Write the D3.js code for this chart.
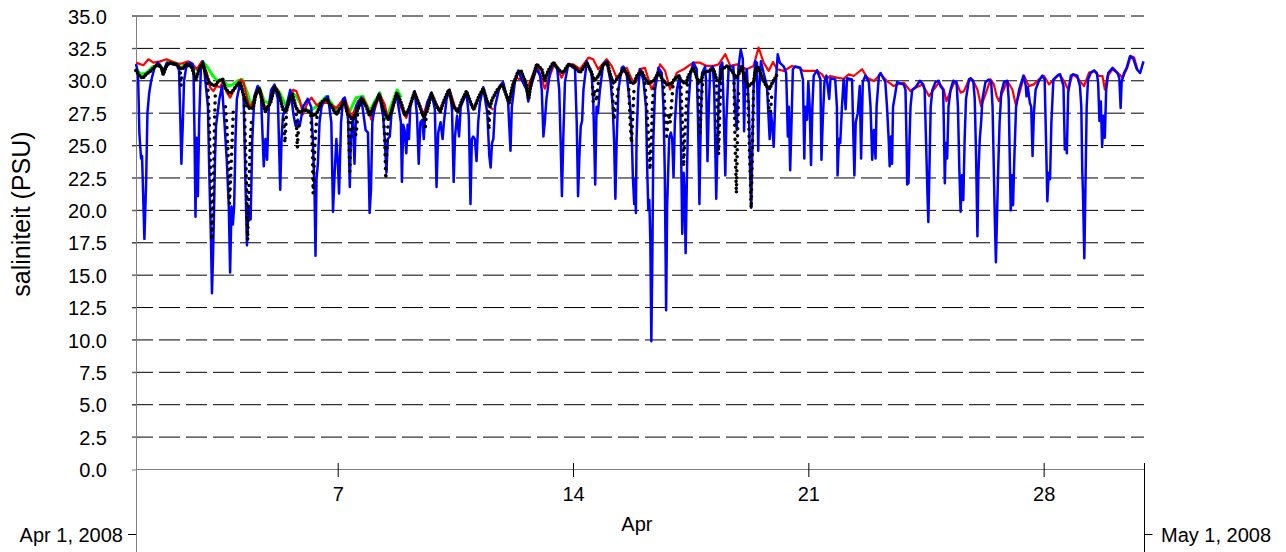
<!DOCTYPE html>
<html>
<head>
<meta charset="utf-8">
<script src="https://cdn.jsdelivr.net/npm/d3@7"></script>
<style>
  body { margin: 0; background: #fff; }
  svg { display: block; }
  text { font-family: "Liberation Sans", Arial, Helvetica, sans-serif; fill: #000; }
</style>
</head>
<body>
<svg id="chart" width="1286" height="552"></svg>
<script>
// Salinity time series, April 2008. Each series: [days after 1 Apr 00:00, salinity PSU].
const yTickValues = [0, 2.5, 5, 7.5, 10, 12.5, 15, 17.5, 20, 22.5, 25, 27.5, 30, 32.5, 35];
const xTickDays = [7, 14, 21, 28];
const yTitle = "saliniteit (PSU)";
const monthLabel = "Apr";
const startLabel = "Apr 1, 2008";
const endLabel = "May 1, 2008";

const redSeries = [[0,31.4],[0.22,31.2],[0.37,31.66],[0.52,31.4],[0.72,31.5],[0.91,31.66],[1.21,31.35],[1.31,31.3],[1.56,31.5],[1.71,31.2],[1.81,30.9],[1.96,31.5],[2.11,30.6],[2.2,29.5],[2.3,29.2],[2.4,29.6],[2.5,29.5],[2.6,30.0],[2.7,29.1],[2.8,28.7],[2.92,29.3],[3.05,29.9],[3.12,30.1],[3.2,29.9],[3.3,28.7],[3.38,27.9],[3.48,28.4],[3.6,29.0],[3.7,29.3],[3.85,27.8],[3.95,27.9],[4.12,29.6],[4.22,29.3],[4.36,28.0],[4.45,27.6],[4.57,28.3],[4.67,29.3],[4.77,29.2],[4.87,28.5],[4.97,27.4],[5.1,28.3],[5.22,28.7],[5.38,28.1],[5.5,28.3],[5.72,28.3],[5.96,27.9],[6.21,28.69],[6.41,27.13],[6.6,28.43],[6.75,28.69],[6.9,27.9],[7.0,27.0],[7.25,28.95],[7.4,28.17],[7.5,27.0],[7.75,29.08],[7.89,27.9],[8.04,27.13],[8.29,29.2],[8.44,28.04],[8.54,27.39],[8.79,29.08],[8.94,28.17],[9.04,27.78],[9.33,29.33],[9.48,28.04],[9.58,27.65],[9.83,29.08],[9.98,28.17],[10.03,27.78],[10.33,29.46],[10.48,28.04],[10.63,27.78],
  null,
  [11.32,30.24],[11.52,29.98],[11.67,29.6],[11.85,30.76],[11.92,31.28],[12.16,29.39],[12.31,30.37],[12.46,31.4],[12.66,30.24],[12.86,31.27],[13.01,31.27],[13.21,30.9],[13.46,31.79],[13.6,31.66],[13.75,30.89],[14.0,31.66],[14.15,31.15],[14.3,30.24],[14.5,30.89],[14.6,31.0],[14.75,30.11],[14.85,29.85],[14.99,30.9],[15.14,31.0],[15.34,29.33],[15.44,29.85],[15.59,31.27],[15.74,30.76],[15.89,29.33],[16.09,30.63],[16.29,30.89],[16.58,31.4],[16.78,31.4],[16.98,31.15],[17.18,31.15],[17.33,31.27],[17.53,32.05],[17.68,31.15],[17.875,31.27],[18.17,30.89],[18.37,31.14],[18.52,32.57],[18.67,31.4],[18.82,30.76],[18.95,31.45],[19.07,30.89],[19.27,30.76],[19.51,31.14],[19.71,31.02],[19.86,30.76],[20.01,30.76],[20.26,30.76],[20.41,30.5],[20.51,30.11],[20.66,30.37],[20.85,30.24],[21.05,30.16],[21.2,30.5],[21.35,30.37],[21.6,30.89],[21.75,30.24],[21.95,29.98],[22.15,30.5],[22.34,29.98],[22.54,29.59],[22.64,29.72],[22.84,29.85],[23.04,29.2],[23.19,29.46],[23.39,29.72],[23.59,28.82],[23.73,29.33],[23.88,29.85],[24.03,29.33],[24.11,28.43],[24.23,29.2],[24.33,29.85],[24.43,29.72],[24.53,29.08],[24.63,29.2],[24.78,30.11],[24.88,30.11],[25.03,29.33],[25.14,28.04],[25.27,28.95],[25.42,30.11],[25.52,29.72],[25.6,28.82],[25.67,28.43],[25.77,29.08],[25.92,29.98],[26.07,29.33],[26.17,28.17],[26.27,28.95],[26.42,30.37],[26.56,29.59],[26.71,29.72],[26.86,30.11],[27.01,30.37],[27.16,29.72],[27.31,30.11],[27.46,30.5],[27.61,29.98],[27.73,29.33],[27.86,30.5],[28.0,30.24],[28.2,29.59],[28.35,30.63],[28.5,30.76],[28.65,30.37],[28.75,30.37],[28.82,29.33],[28.9,30.37],[29.05,30.89],[29.25,30.5],[29.35,30.24],[29.49,31.02],[29.59,31.92],[29.69,31.79],[29.79,30.89]];

const greenSeries = [[0,30.9],[0.15,30.5],[0.3,30.6],[0.5,31.1],[0.7,31.3],[0.81,30.6],[0.94,31.5],[1.19,31.35],[1.34,31.0],[1.49,31.35],[1.69,31.1],[1.84,30.8],[1.99,31.45],[2.14,31.0],[2.28,30.4],[2.43,30.0],[2.58,30.1],[2.73,29.6],[2.88,29.7],[3.03,30.0],[3.16,30.1],[3.33,28.95],[3.43,28.0],[3.57,29.1],[3.67,29.5],[3.82,28.4],[3.97,28.3],[4.12,29.6],[4.27,29.1],[4.47,28.0],[4.62,29.1],[4.77,28.8],[4.97,27.9],[5.16,27.65],[5.36,28.0],[5.51,28.4],[5.66,28.8],[5.81,28.3],[5.96,27.65],[6.16,28.56],[6.36,27.65],[6.55,28.69],[6.75,28.8],[6.95,27.65],[7.25,29.1],[7.45,27.1],[7.55,27.8],[7.77,29.3],[7.89,28.7]];

// continuous part of the point series (dense readings)
const blackBand = [[0,30.8],[0.1,30.4],[0.2,30.2],[0.3,30.5],[0.45,30.8],[0.6,31.2],[0.75,31.1],[0.81,30.5],[0.9,31.1],[1.0,31.4],[1.2,31.27],[1.29,31.0],[1.38,30.9],[1.5,31.3],[1.65,31.1],[1.74,30.4],[1.77,30.0],[1.88,30.9],[1.99,31.4],[2.09,30.4],[2.2,29.8],[2.36,29.6],[2.45,30.0],[2.58,30.1],[2.66,29.4],[2.8,29.0],[2.9,29.3],[2.98,29.6],[3.1,29.9],[3.2,28.9],[3.35,27.9],[3.48,27.9],[3.57,29.0],[3.67,29.4],[3.78,28.2],[3.85,27.6],[3.92,28.0],[4.0,28.3],[4.12,29.5],[4.25,29.0],[4.37,27.8],[4.47,27.6],[4.55,28.5],[4.65,29.0],[4.75,28.0],[4.84,27.6],[4.92,27.6],[5.0,27.8],[5.16,27.6],[5.3,27.3],[5.4,27.6],[5.5,28.3],[5.66,28.6],[5.8,28.1],[5.96,27.4],[6.1,28.0],[6.2,28.4],[6.3,27.4],[6.45,27.0],[6.6,27.8],[6.72,28.6],[6.85,28.0],[6.95,27.3],[7.1,28.2],[7.24,28.9],[7.36,27.8],[7.5,27.0],[7.6,27.6],[7.76,29.1],[7.9,28.2],[8.0,27.3],[8.1,27.7],[8.28,29.1],[8.45,28.0],[8.55,27.2],[8.65,27.6],[8.79,29.0],[8.95,28.0],[9.05,27.6],[9.15,28.4],[9.3,29.3],[9.45,28.0],[9.57,27.6],[9.7,28.5],[9.83,29.2],[9.97,28.2],[10.05,27.8],[10.2,28.8],[10.33,29.4],[10.45,28.4],[10.53,28.0],[10.6,28.6],[10.75,29.3],[10.9,29.7],[11.0,29.0],[11.1,28.3],[11.2,29.6],[11.35,30.6],[11.45,30.8],[11.6,29.8],[11.68,28.6],[11.75,29.8],[11.92,31.27],[12.07,30.89],[12.16,29.98],[12.26,30.76],[12.41,31.4],[12.61,30.76],[12.71,30.63],[12.86,31.27],[13.01,31.14],[13.21,30.63],[13.41,31.4],[13.55,30.63],[13.62,30.0],[13.76,30.37],[13.9,31.27],[14.02,31.4],[14.12,30.37],[14.2,29.8],[14.38,30.37],[14.5,30.89],[14.6,30.63],[14.7,29.9],[14.82,29.8],[14.9,30.37],[15.04,30.76],[15.14,30.2],[15.25,29.8],[15.4,30.0],[15.54,30.63],[15.69,30.0],[15.8,29.7],[15.94,29.8],[16.01,30.11],[16.14,30.37],[16.25,29.9],[16.37,29.8],[16.43,30.37],[16.58,31.02],[16.7,30.11],[16.8,29.9],[16.88,30.63],[17.03,30.76],[17.18,30.89],[17.28,30.0],[17.37,30.0],[17.43,30.89],[17.58,31.14],[17.73,30.76],[17.85,30.2],[17.95,30.63],[18.02,31.14],[18.12,30.11],[18.22,29.6],[18.37,29.9],[18.42,30.63],[18.49,31.14],[18.57,30.63],[18.65,30.11],[18.75,29.59],[18.85,29.4],[18.92,29.8],[18.99,30.11],[19.07,30.5]];

// sparse readings during the low-salinity events of the same series
const blackTrails = [
  [[1.32,30.6],[1.34,29.6],[1.36,30.5]],
  [[2.12,29.8],[2.14,29.3],[2.18,26.7],[2.22,22.9],[2.26,17.7],[2.3,21.0],[2.33,26.0],[2.36,29.2]],
  [[2.66,28.0],[2.7,26.5],[2.74,24.2],[2.78,20.5],[2.82,22.9],[2.86,25.4],[2.9,28.0]],
  [[3.22,28.6],[3.25,25.4],[3.29,21.6],[3.32,17.7],[3.36,21.6],[3.4,25.4],[3.44,27.0]],
  [[4.39,27.0],[4.41,26.0],[4.43,25.2],[4.47,27.2]],
  [[4.77,27.4],[4.78,26.2],[4.8,24.8],[4.84,26.8]],
  [[5.2,27.3],[5.22,26.5],[5.25,24.5],[5.27,21.3],[5.3,23.5],[5.34,26.0],[5.4,27.6]],
  [[6.32,26.8],[6.36,23.0],[6.4,26.8],[6.48,26.0],[6.55,25.8],[6.6,27.8]],
  [[7.37,27.0],[7.4,25.5],[7.43,22.4],[7.46,24.6],[7.5,26.8]],
  [[8.58,27.0],[8.6,26.2],[8.63,27.2]],
  [[10.48,27.6],[10.5,26.2],[10.53,28.0]],
  [[13.58,29.5],[13.6,28.4],[13.64,29.3],[13.7,28.4],[13.76,30.0]],
  [[14.16,29.5],[14.18,28.7],[14.22,27.0],[14.26,28.0],[14.32,28.9],[14.36,29.8]],
  [[14.66,29.33],[14.7,26.75],[14.74,25.2],[14.78,27.5],[14.82,29.6]],
  [[15.14,29.8],[15.19,28.04],[15.24,25.97],[15.29,23.13],[15.33,25.45],[15.37,28.56],[15.42,29.8]],
  [[15.7,29.5],[15.74,27.52],[15.79,25.71],[15.84,27.52],[15.89,26.75],[15.94,28.56],[15.98,29.8]],
  [[16.21,29.5],[16.25,27.0],[16.29,23.38],[16.32,25.45],[16.37,28.04],[16.41,29.8]],
  [[16.72,29.8],[16.74,28.04],[16.78,25.97],[16.82,28.56],[16.86,30.0]],
  [[17.27,29.6],[17.3,26.75],[17.33,24.3],[17.37,28.04],[17.4,30.0]],
  [[17.79,29.8],[17.82,25.45],[17.86,21.3],[17.89,25.45],[17.93,29.5]],
  [[18.19,29.5],[18.23,26.49],[18.27,22.87],[18.3,20.15],[18.34,25.45],[18.37,29.33]],
  [[18.8,29.0],[18.82,28.04],[18.87,27.52],[18.92,29.08]]
];

const blueSeries = [[0,31.3],[0.06,30.6],[0.1,26.0],[0.15,24.0],[0.18,24.2],[0.25,17.8],[0.3,22.0],[0.34,27.5],[0.39,29.0],[0.45,30.0],[0.55,31.0],[0.65,31.4],[0.75,31.0],[0.8,30.6],[0.92,31.4],[1.07,31.3],[1.22,31.2],[1.28,30.8],[1.31,28.0],[1.35,23.6],[1.39,26.5],[1.43,30.0],[1.49,31.0],[1.61,31.4],[1.68,31.3],[1.71,30.9],[1.74,26.0],[1.77,19.5],[1.80,25.6],[1.84,21.1],[1.88,27.0],[1.93,30.9],[1.99,31.5],[2.04,30.6],[2.14,28.0],[2.18,22.9],[2.23,17.7],[2.26,13.6],[2.29,16.4],[2.32,19.8],[2.35,23.9],[2.38,26.5],[2.48,28.6],[2.56,29.6],[2.63,26.8],[2.70,23.9],[2.76,20.3],[2.80,15.2],[2.84,20.3],[2.88,18.9],[2.92,20.3],[2.96,25.5],[3.0,28.6],[3.08,29.6],[3.16,29.3],[3.2,28.8],[3.25,22.9],[3.30,17.3],[3.35,20.3],[3.41,19.3],[3.46,25.5],[3.52,28.8],[3.62,29.6],[3.72,28.8],[3.80,23.4],[3.85,25.5],[3.90,23.9],[3.95,28.0],[4.02,29.3],[4.12,29.7],[4.22,28.6],[4.29,21.6],[4.33,25.5],[4.37,27.3],[4.47,28.0],[4.59,29.3],[4.69,27.3],[4.75,26.5],[4.81,27.0],[4.87,26.5],[4.97,28.0],[5.11,28.6],[5.21,28.0],[5.26,25.5],[5.31,21.6],[5.34,16.5],[5.37,22.4],[5.41,23.6],[5.46,26.8],[5.52,28.0],[5.61,28.6],[5.71,28.8],[5.81,26.8],[5.86,19.9],[5.91,22.9],[5.96,25.5],[6.01,23.4],[6.04,21.3],[6.1,26.8],[6.16,28.6],[6.21,28.7],[6.31,27.0],[6.36,21.8],[6.39,25.5],[6.45,27.0],[6.50,23.6],[6.55,28.0],[6.70,28.7],[6.83,26.2],[6.90,26.0],[6.95,19.8],[6.99,21.6],[7.03,26.8],[7.10,28.0],[7.23,29.0],[7.35,27.3],[7.40,25.5],[7.45,22.9],[7.49,25.5],[7.55,25.7],[7.60,27.5],[7.75,29.0],[7.88,26.8],[7.91,22.2],[7.95,26.6],[7.99,26.2],[8.04,24.4],[8.08,26.6],[8.12,25.5],[8.16,28.0],[8.29,29.2],[8.36,27.3],[8.41,23.6],[8.46,26.8],[8.52,27.0],[8.56,25.5],[8.60,27.3],[8.66,28.3],[8.79,29.1],[8.89,27.8],[8.94,21.8],[8.99,26.0],[9.06,26.8],[9.12,25.5],[9.16,26.8],[9.24,28.6],[9.33,29.3],[9.40,27.8],[9.45,22.2],[9.49,25.7],[9.55,27.3],[9.61,25.7],[9.66,28.0],[9.83,29.1],[9.90,27.3],[9.95,20.5],[9.99,25.5],[10.03,25.7],[10.08,25.5],[10.13,23.8],[10.18,26.8],[10.23,28.3],[10.33,29.5],[10.45,27.5],[10.51,24.2],[10.55,23.3],[10.59,25.2],[10.63,25.5],[10.68,28.0],[10.82,29.6],[10.92,29.9],[11.07,28.3],[11.14,24.6],[11.18,28.0],[11.27,29.9],[11.37,30.8],[11.47,30.1],[11.62,29.3],[11.67,28.4],[11.72,29.3],[11.87,30.6],[11.92,30.9],[12.02,30.4],[12.07,29.3],[12.12,25.7],[12.16,26.8],[12.21,28.6],[12.31,30.6],[12.41,31.4],[12.53,30.9],[12.59,29.3],[12.63,25.5],[12.67,21.1],[12.71,25.5],[12.76,29.9],[12.86,31.3],[13.06,30.9],[13.11,26.8],[13.15,21.1],[13.19,24.2],[13.23,26.5],[13.27,26.9],[13.31,29.3],[13.41,31.5],[13.55,30.6],[13.60,28.6],[13.63,25.5],[13.66,22.0],[13.70,28.0],[13.74,27.5],[13.80,29.3],[13.90,31.3],[14.0,31.5],[14.12,29.9],[14.18,28.0],[14.22,25.5],[14.26,20.9],[14.30,25.5],[14.35,29.3],[14.45,31.0],[14.50,31.1],[14.60,30.4],[14.70,28.0],[14.75,25.5],[14.78,22.6],[14.82,20.5],[14.84,22.4],[14.87,19.8],[14.89,25.5],[14.94,29.3],[14.99,30.9],[15.09,30.1],[15.17,28.0],[15.21,22.9],[15.24,20.0],[15.27,20.8],[15.30,17.7],[15.33,9.9],[15.36,16.4],[15.39,25.5],[15.44,29.3],[15.54,31.0],[15.64,30.6],[15.69,28.0],[15.73,22.9],[15.77,12.3],[15.80,20.3],[15.83,22.9],[15.86,25.5],[15.91,26.0],[15.95,25.5],[15.99,22.6],[16.03,26.8],[16.09,29.3],[16.17,30.4],[16.21,25.5],[16.25,18.2],[16.29,22.9],[16.32,21.3],[16.35,16.7],[16.39,22.9],[16.43,28.0],[16.50,30.6],[16.58,31.4],[16.68,30.9],[16.72,26.8],[16.76,20.5],[16.80,26.8],[16.84,30.6],[16.93,31.1],[16.96,29.9],[17.0,23.8],[17.04,28.0],[17.08,30.9],[17.16,31.1],[17.20,29.3],[17.26,20.9],[17.30,25.5],[17.34,29.3],[17.38,31.1],[17.44,31.4],[17.48,28.0],[17.53,22.7],[17.56,26.8],[17.63,31.1],[17.77,31.1],[17.82,28.0],[17.87,26.2],[17.92,31.0],[17.99,32.4],[18.05,31.7],[18.07,29.3],[18.09,26.1],[18.12,30.1],[18.17,30.9],[18.23,28.0],[18.27,22.9],[18.30,20.2],[18.33,24.2],[18.37,29.3],[18.42,31.5],[18.47,31.4],[18.51,24.6],[18.54,29.3],[18.59,31.5],[18.67,30.6],[18.77,29.6],[18.85,25.5],[18.89,27.5],[18.93,26.5],[18.97,24.9],[19.01,28.0],[19.05,30.6],[19.09,32.05],[19.15,31.4],[19.27,31.1],[19.34,30.6],[19.36,28.8],[19.39,25.7],[19.42,28.0],[19.46,23.1],[19.50,26.8],[19.54,30.9],[19.61,31.1],[19.76,31.0],[19.84,30.1],[19.88,24.0],[19.91,28.0],[19.96,27.0],[20.0,29.9],[20.04,28.0],[20.08,23.5],[20.12,28.0],[20.16,30.4],[20.26,30.8],[20.36,30.1],[20.39,23.9],[20.43,27.0],[20.48,29.9],[20.54,30.4],[20.62,28.6],[20.66,30.2],[20.80,30.1],[20.85,28.0],[20.87,22.7],[20.91,25.5],[20.95,25.2],[21.0,28.0],[21.05,30.1],[21.11,27.8],[21.15,30.2],[21.30,30.1],[21.33,26.8],[21.37,22.7],[21.41,26.8],[21.47,27.5],[21.53,29.6],[21.57,24.0],[21.62,29.9],[21.70,30.4],[21.80,29.9],[21.85,28.0],[21.90,23.9],[21.95,26.2],[22.0,24.0],[22.03,28.0],[22.10,30.4],[22.15,30.6],[22.29,29.9],[22.34,28.0],[22.39,25.5],[22.42,23.4],[22.46,25.7],[22.49,23.6],[22.52,28.0],[22.56,28.6],[22.64,29.9],[22.84,29.7],[22.89,29.3],[22.92,25.5],[22.94,22.0],[22.98,22.1],[23.01,25.5],[23.04,28.0],[23.09,29.3],[23.19,29.5],[23.32,30.0],[23.42,29.7],[23.46,29.3],[23.50,25.5],[23.54,21.6],[23.57,19.1],[23.60,22.9],[23.64,28.0],[23.69,29.3],[23.78,29.9],[23.88,30.0],[23.93,29.6],[24.01,29.3],[24.03,26.8],[24.06,22.1],[24.09,25.2],[24.13,24.0],[24.17,28.0],[24.23,29.3],[24.31,30.0],[24.41,29.9],[24.45,28.0],[24.49,23.4],[24.53,19.9],[24.57,22.7],[24.61,20.8],[24.65,25.5],[24.69,28.6],[24.78,30.1],[24.83,30.2],[24.91,29.9],[24.95,28.6],[24.99,24.2],[25.03,18.0],[25.06,22.9],[25.10,25.5],[25.14,26.8],[25.18,28.6],[25.27,29.9],[25.37,30.1],[25.44,29.9],[25.48,28.0],[25.52,22.9],[25.55,19.0],[25.58,16.0],[25.62,20.3],[25.65,23.4],[25.69,26.8],[25.74,29.1],[25.82,29.9],[25.92,30.0],[25.96,28.6],[26.0,22.9],[26.02,20.0],[26.05,22.7],[26.09,20.4],[26.13,24.2],[26.18,28.0],[26.27,29.3],[26.40,30.4],[26.47,29.6],[26.49,28.8],[26.53,29.5],[26.59,28.3],[26.63,28.0],[26.67,24.2],[26.71,27.5],[26.76,29.3],[26.86,30.0],[26.96,30.4],[27.03,30.1],[27.07,25.5],[27.11,20.7],[27.15,22.9],[27.19,22.4],[27.23,26.8],[27.29,30.1],[27.41,30.4],[27.49,30.5],[27.59,29.6],[27.63,24.7],[27.66,25.5],[27.69,24.4],[27.73,29.1],[27.81,30.4],[27.89,30.5],[28.0,30.4],[28.08,29.6],[28.12,28.0],[28.15,22.9],[28.17,21.3],[28.21,16.3],[28.25,22.9],[28.28,28.0],[28.32,30.1],[28.40,30.6],[28.50,30.8],[28.58,30.6],[28.62,29.9],[28.66,26.9],[28.70,28.4],[28.74,24.9],[28.78,27.3],[28.82,25.6],[28.86,29.3],[28.92,30.6],[29.05,31.0],[29.20,30.6],[29.25,30.2],[29.29,27.9],[29.32,29.9],[29.39,30.6],[29.47,31.0],[29.57,31.9],[29.67,31.7],[29.77,30.9],[29.87,30.6],[29.97,31.5]];

const svg = d3.select("#chart");
const start = new Date(2008, 3, 1);
const end = new Date(2008, 4, 1);
const atDay = d => new Date(start.getTime() + d * 864e5);

const x = d3.scaleTime().domain([start, end]).range([136, 1144.5]);
const y = d3.scaleLinear().domain([0, 35]).range([469.5, 16]);

// dashed horizontal grid
svg.append("g")
  .selectAll("line")
  .data(yTickValues.filter(v => v > 0))
  .join("line")
  .attr("x1", 132).attr("x2", 1144)
  .attr("y1", d => y(d)).attr("y2", d => y(d))
  .attr("stroke", "#000").attr("stroke-width", 1)
  .attr("stroke-dasharray", "21,6");

// y axis
const yAxis = svg.append("g")
  .attr("transform", "translate(136,0)")
  .call(d3.axisLeft(y).tickValues(yTickValues).tickFormat(d3.format(".1f")).tickSize(4).tickPadding(25));
yAxis.select(".domain").remove();
yAxis.selectAll(".tick line").attr("stroke", "#808080");
yAxis.selectAll(".tick text").attr("font-size", 20).attr("dy", "0.36em")
  .style("font-family", '"Liberation Sans", Arial, sans-serif');

// left axis rule runs to the bottom edge
svg.append("line").attr("x1", 136.5).attr("x2", 136.5).attr("y1", 15.5).attr("y2", 552)
  .attr("stroke", "#808080").attr("stroke-width", 1);

// x axis
const xAxis = svg.append("g")
  .attr("transform", `translate(0,${y(0)})`)
  .call(d3.axisBottom(x)
    .tickValues(xTickDays.map(d => new Date(2008, 3, d)))
    .tickFormat(d3.timeFormat("%-d"))
    .tickSize(0));
xAxis.select(".domain").attr("stroke", "#808080").attr("d", `M136,0H1145`);
xAxis.selectAll(".tick line").attr("y1", -6.5).attr("y2", 7.5).attr("stroke", "#000");
xAxis.selectAll(".tick text").attr("y", 31.5).attr("dy", null).attr("font-size", 20)
  .style("font-family", '"Liberation Sans", Arial, sans-serif');

// right rule at end of month
svg.append("line").attr("x1", x(end)).attr("x2", x(end)).attr("y1", 463).attr("y2", 552)
  .attr("stroke", "#000").attr("stroke-width", 1);

// period labels
svg.append("line").attr("x1", 128).attr("x2", 136).attr("y1", 534.5).attr("y2", 534.5).attr("stroke", "#000");
svg.append("text").attr("x", 123).attr("y", 542).attr("text-anchor", "end").attr("font-size", 20).text(startLabel);
svg.append("line").attr("x1", x(end)).attr("x2", x(end) + 8).attr("y1", 534.5).attr("y2", 534.5).attr("stroke", "#000");
svg.append("text").attr("x", 1161).attr("y", 542).attr("font-size", 20).text(endLabel);
svg.append("text").attr("x", x(atDay(14.9))).attr("y", 531).attr("text-anchor", "middle").attr("font-size", 20).text(monthLabel);

// y title
svg.append("text")
  .attr("transform", "translate(30,214) rotate(-90)")
  .attr("text-anchor", "middle").attr("font-size", 25).text(yTitle);

// series
const line = d3.line()
  .defined(p => p !== null)
  .x(p => x(atDay(p[0])))
  .y(p => y(p[1]));

const plot = svg.append("g");
plot.append("path").datum(greenSeries).attr("d", line)
  .attr("fill", "none").attr("stroke", "#00ff00").attr("stroke-width", 3).attr("stroke-linejoin", "round");
plot.append("path").datum(redSeries).attr("d", line)
  .attr("fill", "none").attr("stroke", "#ff0000").attr("stroke-width", 2.2).attr("stroke-linejoin", "round");
plot.append("path").datum(blueSeries).attr("d", line)
  .attr("fill", "none").attr("stroke", "#0000ff").attr("stroke-width", 2.5).attr("stroke-linejoin", "round");
plot.append("path").datum(blackBand).attr("d", line)
  .attr("fill", "none").attr("stroke", "#000").attr("stroke-width", 3.8)
  .attr("stroke-linecap", "round").attr("stroke-dasharray", "0,3");
plot.selectAll(".trail").data(blackTrails).join("path").attr("class", "trail").attr("d", line)
  .attr("fill", "none").attr("stroke", "#000").attr("stroke-width", 3.6)
  .attr("stroke-linecap", "round").attr("stroke-dasharray", "0,7");
</script>
</body>
</html>
